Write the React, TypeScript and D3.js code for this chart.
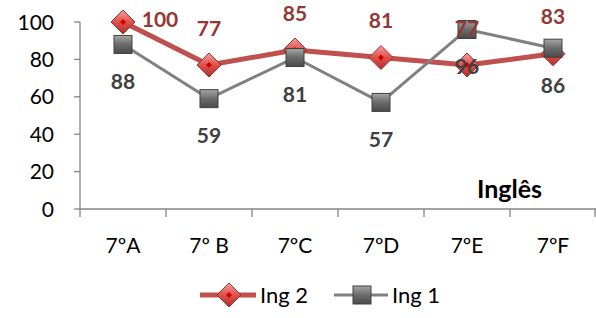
import { scaleBand, scaleLinear, line } from 'd3';

const categories = ['7ºA', '7º B', '7ºC', '7ºD', '7ºE', '7ºF'];
const ing2 = [100, 77, 85, 81, 77, 83];
const ing1 = [88, 59, 81, 57, 96, 86];
const yTicks = [0, 20, 40, 60, 80, 100];

const width = 596;
const height = 318;
const margin = { top: 22, right: 0, bottom: 109, left: 80 };
const font = 'Lato, "Open Sans", sans-serif';

export default function App() {
  const x = scaleBand<string>()
    .domain(categories)
    .range([margin.left, width - margin.right]);
  const y = scaleLinear()
    .domain([0, 100])
    .range([height - margin.bottom, margin.top]);
  const cx = (i: number) => (x(categories[i]) ?? 0) + x.bandwidth() / 2;

  const path = line<number>()
    .x((_, i) => cx(i))
    .y((d) => y(d));

  const diamond = (px: number, py: number, r: number) =>
    `M${px},${py - r}L${px + r},${py}L${px},${py + r}L${px - r},${py}Z`;

  const y0 = y(0);

  return (
    <svg width={width} height={height} style={{ position: 'absolute', left: 0, top: 0 }}>
      <defs>
        <linearGradient id='redg' x1='0' y1='0' x2='0' y2='1'>
          <stop offset='0' stopColor='#f4a09e' />
          <stop offset='0.5' stopColor='#e0504c' />
          <stop offset='1' stopColor='#b0302d' />
        </linearGradient>
        <linearGradient id='grayg' x1='0' y1='0' x2='0' y2='1'>
          <stop offset='0' stopColor='#a6a6a6' />
          <stop offset='0.5' stopColor='#6b6b6b' />
          <stop offset='1' stopColor='#4a4a4a' />
        </linearGradient>
      </defs>

      {/* y axis */}
      <line x1={margin.left} x2={margin.left} y1={y(100)} y2={y0} stroke='#868686' strokeWidth={1.3} />
      {yTicks.map((t) => (
        <g key={t}>
          <line x1={margin.left - 6} x2={margin.left} y1={y(t)} y2={y(t)} stroke='#868686' strokeWidth={1.3} />
          <text x={54} y={y(t)} dy='0.36em' textAnchor='end' fontFamily={font} fontSize={21} fill='#000'>
            {t}
          </text>
        </g>
      ))}

      {/* x axis */}
      <line x1={margin.left} x2={width} y1={y0} y2={y0} stroke='#868686' strokeWidth={1.3} />
      {categories.map((c, i) => (
        <g key={c}>
          <line
            x1={x(c)}
            x2={x(c)}
            y1={y0}
            y2={y0 + 8}
            stroke='#868686'
            strokeWidth={1.3}
          />
          <text x={cx(i)} y={253} textAnchor='middle' fontFamily={font} fontSize={21} fill='#000'>
            {c}
          </text>
        </g>
      ))}
      <line x1={width - 1} x2={width - 1} y1={y0} y2={y0 + 8} stroke='#868686' strokeWidth={1.3} />

      {/* Ing 2 */}
      <path d={path(ing2) ?? ''} fill='none' stroke='#c0504d' strokeWidth={5} strokeLinejoin='round' />
      {ing2.map((v, i) => (
        <g key={i}>
          <path d={diamond(cx(i), y(v), 12)} fill='url(#redg)' stroke='#9a3330' strokeWidth={1} />
          <path d={diamond(cx(i), y(v), 3)} fill='#d00000' />
        </g>
      ))}

      {/* Ing 1 */}
      <path d={path(ing1) ?? ''} fill='none' stroke='#808080' strokeWidth={3} strokeLinejoin='round' />
      {ing1.map((v, i) => (
        <rect
          key={i}
          x={cx(i) - 9}
          y={y(v) - 9}
          width={18}
          height={18}
          fill='url(#grayg)'
          stroke='#404040'
          strokeWidth={1}
        />
      ))}

      {/* data labels */}
      {ing2.map((v, i) => (
        <text
          key={i}
          x={i === 0 ? cx(i) + 37 : cx(i)}
          y={i === 0 ? y(v) - 3 : y(v) - 37}
          dy='0.36em'
          textAnchor='middle'
          fontFamily={font}
          fontWeight='bold'
          fontSize={21}
          fill='#953735'
        >
          {v}
        </text>
      ))}
      {ing1.map((v, i) => (
        <text
          key={i}
          x={cx(i)}
          y={y(v) + 37}
          dy='0.36em'
          textAnchor='middle'
          fontFamily={font}
          fontWeight='bold'
          fontSize={21}
          fill='#404040'
        >
          {v}
        </text>
      ))}

      <text x={477} y={198} fontFamily={font} fontWeight='bold' fontSize={25} fill='#000'>
        Inglês
      </text>

      {/* legend */}
      <g>
        <line x1={200} x2={256} y1={295} y2={295} stroke='#c0504d' strokeWidth={5} />
        <path d={diamond(229, 295, 12)} fill='url(#redg)' stroke='#9a3330' strokeWidth={1} />
        <path d={diamond(229, 295, 3)} fill='#d00000' />
        <text x={260} y={295} dy='0.36em' fontFamily={font} fontSize={22} fill='#000'>
          Ing 2
        </text>
        <line x1={334} x2={388} y1={295} y2={295} stroke='#808080' strokeWidth={3} />
        <rect x={353} y={286} width={18} height={18} fill='url(#grayg)' stroke='#404040' strokeWidth={1} />
        <text x={392} y={295} dy='0.36em' fontFamily={font} fontSize={22} fill='#000'>
          Ing 1
        </text>
      </g>
    </svg>
  );
}
